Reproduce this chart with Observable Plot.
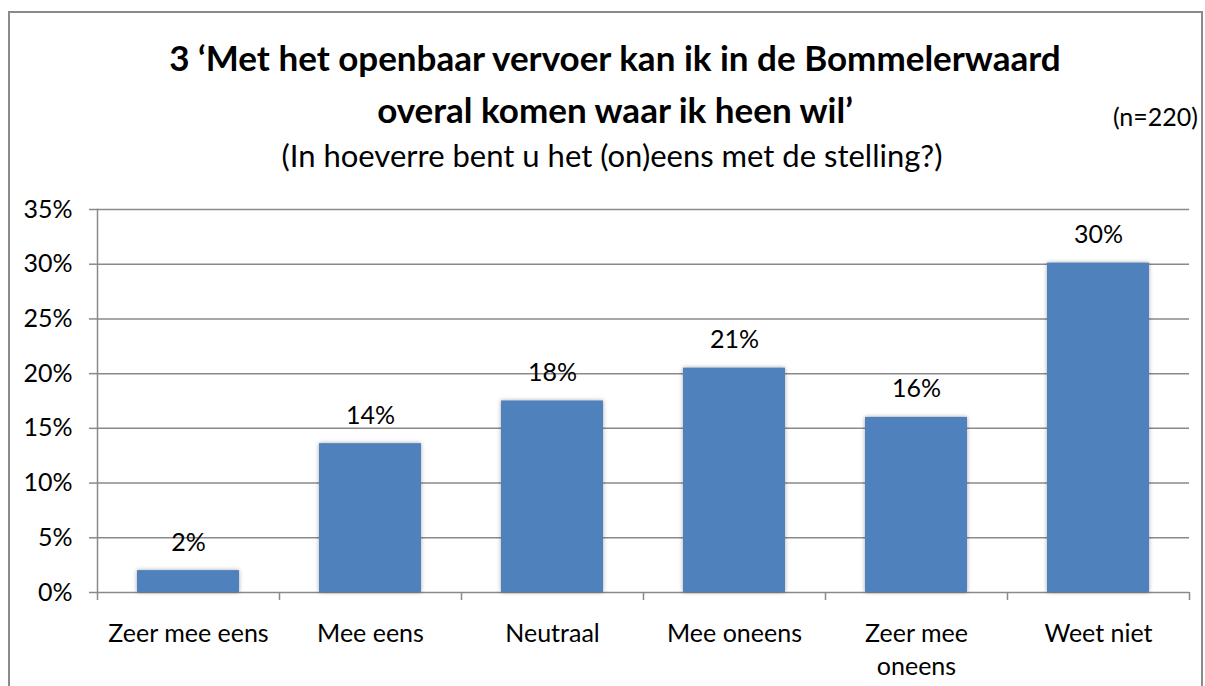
<!DOCTYPE html>
<html><head><meta charset="utf-8">
<script src="https://cdn.jsdelivr.net/npm/d3@7"></script>
<script src="https://cdn.jsdelivr.net/npm/@observablehq/plot@0.6"></script>
<style>
body{margin:0;background:#fff;font-family:Lato, "Noto Sans", sans-serif;color:#000;}
#wrap{position:relative;width:1205px;height:686px;overflow:hidden;background:#fff;}
#frame{position:absolute;left:8px;top:11px;width:1195px;height:700px;border:2px solid #8a8a8a;box-sizing:border-box;}
.title{position:absolute;left:0;width:1230px;text-align:center;font-weight:bold;font-size:35px;line-height:44px;}
#n{position:absolute;left:1080px;width:118px;text-align:right;font-size:25px;line-height:30px;top:101px;}
#sub{position:absolute;left:0;width:1224px;text-align:center;font-size:31px;line-height:40px;top:135px;}
#chart{position:absolute;left:0;top:190px;}
</style>
</head><body>
<div id="wrap">
  <div id="frame"></div>
  <div class="title" style="top:35px">3 ‘Met het openbaar vervoer kan ik in de Bommelerwaard</div>
  <div class="title" style="top:87px">overal komen waar ik heen wil’</div>
  <div id="n">(n=220)</div>
  <div id="sub">(In hoeverre bent u het (on)eens met de stelling?)</div>
  <div id="chart"></div>
</div>
<script>
const categories = ["Zeer mee eens", "Mee eens", "Neutraal", "Mee oneens", "Zeer mee oneens", "Weet niet"];
const values = [2.0, 13.6, 17.5, 20.5, 16.0, 30.1];
const valueLabels = ["2%", "14%", "18%", "21%", "16%", "30%"];
const yTicks = [0, 5, 10, 15, 20, 25, 30, 35];
const categoryLabels = ["Zeer mee eens", "Mee eens", "Neutraal", "Mee oneens", "Zeer mee\noneens", "Weet niet"];

const data = categories.map((c, i) => ({cat: c, value: values[i], label: valueLabels[i], tick: categoryLabels[i]}));

const W = 1205, H = 496, ML = 97, MR = 16, MT = 19, MB = 94;
const step = (W - ML - MR) / categories.length;
const gridColor = "#8a8a8a";
const fs = 25;

const plot = Plot.plot({
  width: W, height: H,
  marginLeft: ML, marginRight: MR, marginTop: MT, marginBottom: MB,
  style: {fontFamily: "Lato, 'Noto Sans', sans-serif", color: "#000", background: "transparent"},
  x: {domain: categories, paddingInner: 0.44, paddingOuter: 0.22},
  y: {domain: [0, 35]},
  marks: [
    Plot.ruleY(yTicks, {stroke: gridColor, strokeWidth: 1.5}),
    Plot.frame({anchor: "left", stroke: gridColor, strokeWidth: 1.5}),
    Plot.ruleX(categories, {x: d => d, y1: 0, y2: 0, insetBottom: -8, dx: -step / 2, stroke: gridColor, strokeWidth: 1.5}),
    Plot.ruleX([categories[categories.length - 1]], {x: d => d, y1: 0, y2: 0, insetBottom: -8, dx: step / 2, stroke: gridColor, strokeWidth: 1.5}),
    Plot.barY(data, {x: "cat", y: "value", fill: "#4F81BD"}),
    Plot.text(data, {x: "cat", y: "value", text: "label", dy: -28, fontSize: fs, fill: "#000"}),
    Plot.axisY({ticks: yTicks, tickFormat: d => d + "%", tickSize: 8, tickPadding: 17, fontSize: fs, stroke: gridColor, strokeWidth: 1.5, fill: "#000", label: null}),
    Plot.axisX({tickSize: 0, tickPadding: 26, tickFormat: d => categoryLabels[categories.indexOf(d)], fontSize: fs, lineHeight: 1.32, fill: "#000", label: null})
  ]
});
d3.select(plot).selectAll("g[aria-label=bar] rect").style("filter", "drop-shadow(0px 0px 2px rgba(0,0,0,0.35))");
document.getElementById("chart").appendChild(plot);
</script>
</body></html>
